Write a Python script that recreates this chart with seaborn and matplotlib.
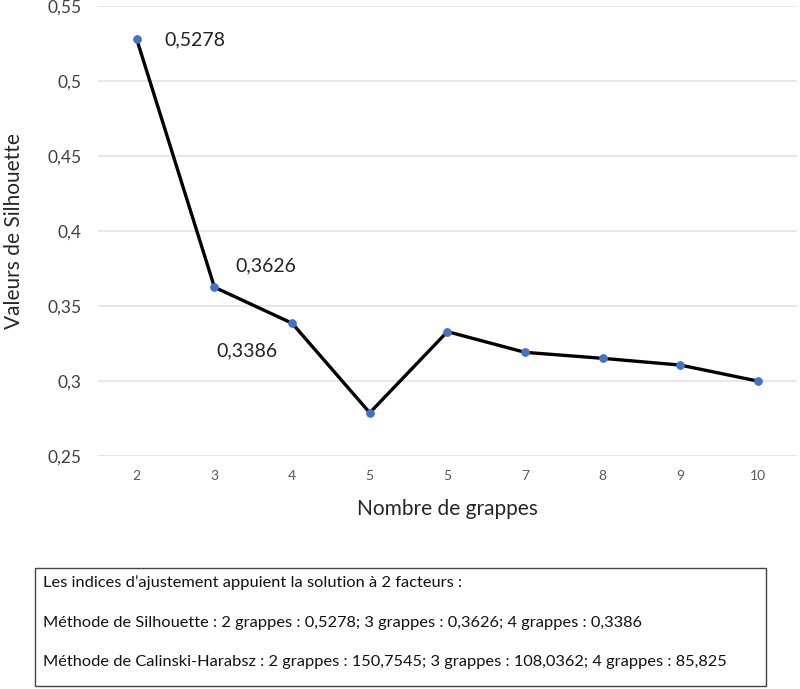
import numpy as np
import pandas as pd
import matplotlib
matplotlib.use("Agg")
import matplotlib.pyplot as plt
import seaborn as sns
from matplotlib.patches import Rectangle

# data
grappes = ["2", "3", "4", "5", "5", "7", "8", "9", "10"]
silhouette = [0.5278, 0.3626, 0.3386, 0.2789, 0.3330, 0.3192, 0.3152, 0.3107, 0.3000]
labelled = {0: "0,5278", 1: "0,3626", 2: "0,3386"}
y_ticks = [0.25, 0.3, 0.35, 0.4, 0.45, 0.5, 0.55]
y_tick_labels = ["0,25", "0,3", "0,35", "0,4", "0,45", "0,5", "0,55"]

note_lines = [
    "Les indices d\u2019ajustement appuient la solution à 2 facteurs :",
    "Méthode de Silhouette : 2 grappes : 0,5278; 3 grappes : 0,3626; 4 grappes : 0,3386",
    "Méthode de Calinski-Harabsz : 2 grappes : 150,7545; 3 grappes : 108,0362; 4 grappes : 85,825",
]

df = pd.DataFrame({"pos": np.arange(len(grappes)), "silhouette": silhouette})

sns.set_style("white")
plt.rcParams["font.family"] = ["Lato", "DejaVu Sans"]

fig = plt.figure(figsize=(8, 6.89), dpi=100)
ax = fig.add_axes([0.1225, 0.338, 0.8735, 0.653])

sns.lineplot(data=df, x="pos", y="silhouette", ax=ax, color="black", linewidth=2.4,
             marker="o", markersize=5.5, markerfacecolor="#4472C4",
             markeredgecolor="#4472C4", zorder=3)

ax.set_xlim(-0.5, len(grappes) - 0.5)
ax.set_ylim(0.25, 0.55)
ax.set_yticks(y_ticks)
ax.set_yticklabels(y_tick_labels, fontsize=12.5, color="#404040")
ax.set_xticks(df["pos"])
ax.set_xticklabels(grappes, fontsize=10, color="#595959")
ax.tick_params(length=0, pad=10)
ax.tick_params(axis="y", pad=12)
ax.grid(axis="y", color="#e3e3e3", linewidth=1.2)
for s in ax.spines.values():
    s.set_visible(False)

ax.set_xlabel("Nombre de grappes", fontsize=15, labelpad=12)
ax.set_ylabel("Valeurs de Silhouette", fontsize=15, labelpad=17)

# data labels
offsets = {0: (0.36, 0.0), 1: (0.27, 0.0145), 2: (-0.98, -0.0185)}
for i, txt in labelled.items():
    dx, dy = offsets[i]
    ax.text(df["pos"][i] + dx, silhouette[i] + dy, txt, fontsize=14,
            ha="left", va="center", color="#222222")

# note box under the chart
fig.patches.append(Rectangle((35 / 800, 3 / 689), 731 / 800, 118 / 689,
                             transform=fig.transFigure, fill=False,
                             edgecolor="#444444", linewidth=1.0))
for k, line in enumerate(note_lines):
    fig.text(43 / 800, 1 - (583 + 39.5 * k) / 689, line, fontsize=11.8,
             ha="left", va="center", color="#111111")

fig.savefig("out.png", dpi=100)
